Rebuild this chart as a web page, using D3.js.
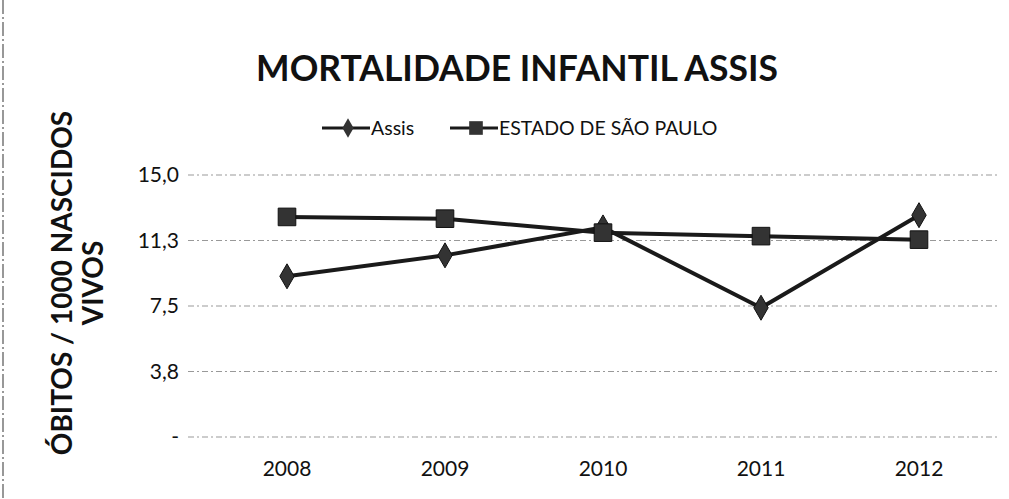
<!DOCTYPE html>
<html>
<head>
<meta charset="utf-8">
<script src="https://cdn.jsdelivr.net/npm/d3@7"></script>
<style>
  body { margin: 0; background: #fff; }
  svg { font-family: Lato, "Open Sans", sans-serif; }
</style>
</head>
<body>
<div class="graph"></div>
<script>
// data
const years = ["2008", "2009", "2010", "2011", "2012"]
const assis = [9.2, 10.4, 12.0, 7.4, 12.7]
const saoPaulo = [12.6, 12.5, 11.7, 11.5, 11.3]
const yTicks = [0, 3.75, 7.5, 11.25, 15]
const yTickLabels = ["-", "3,8", "7,5", "11,3", "15,0"]

const W = 1009, H = 499
const margin = {left: 208, right: 11, top: 175, bottom: 62}

let svg = d3.select('.graph')
    .append('svg')
    .attr("width", W)
    .attr("height", H)

let x = d3.scaleBand()
    .domain(years)
    .range([margin.left, W - margin.right])

let y = d3.scaleLinear()
    .domain([0, 15])
    .range([H - margin.bottom, margin.top])

// left border of the scanned page
svg.append('line')
    .attr('x1', 3).attr('x2', 3).attr('y1', 0).attr('y2', H)
    .attr('stroke', '#777').attr('stroke-width', 1.5)
    .attr('stroke-dasharray', '14,3,2,3')

// gridlines
svg.append('g')
    .selectAll('line')
    .data(yTicks)
    .enter()
    .append('line')
    .attr('x1', margin.left - 20)
    .attr('x2', W - 12)
    .attr('y1', d => y(d))
    .attr('y2', d => y(d))
    .attr('stroke', '#999')
    .attr('stroke-width', 1.2)
    .attr('stroke-dasharray', '6,3,2,3')

// y axis labels
let yAxis = d3.axisLeft(y)
    .tickValues(yTicks)
    .tickFormat((d, i) => yTickLabels[i])
    .tickSize(0)
    .tickPadding(0)

svg.append('g')
    .attr('transform', `translate(${179},0)`)
    .call(yAxis)
    .call(g => g.select('.domain').remove())
    .selectAll('text')
    .attr('font-size', 21)
    .attr('fill', '#111')
    .attr('font-family', 'Lato, sans-serif')

// x axis labels
let xAxis = d3.axisBottom(x).tickSize(0).tickPadding(0)
svg.append('g')
    .attr('transform', `translate(0,${461})`)
    .call(xAxis)
    .call(g => g.select('.domain').remove())
    .selectAll('text')
    .attr('font-size', 21)
    .attr('fill', '#111')
    .attr('font-family', 'Lato, sans-serif')

// title
svg.append('text')
    .attr('x', 517).attr('y', 81)
    .attr('text-anchor', 'middle')
    .attr('font-size', 35.5)
    .attr('font-weight', 'bold')
    .attr('fill', '#111')
    .text('MORTALIDADE INFANTIL ASSIS')

// y axis title
let yt = svg.append('text')
    .attr('transform', 'translate(0,283) rotate(-90)')
    .attr('text-anchor', 'middle')
    .attr('font-size', 28)
    .attr('font-weight', 'bold')
    .attr('fill', '#111')
yt.append('tspan').attr('x', 0).attr('y', 72).text('ÓBITOS / 1000 NASCIDOS')
yt.append('tspan').attr('x', 0).attr('y', 103).text('VIVOS')

let cx = d => x(d) + x.bandwidth() / 2

let line = d3.line()
    .x((d, i) => cx(years[i]))
    .y(d => y(d))

const series = [
  {name: 'Assis', values: assis, shape: d3.symbolDiamond, size: 180},
  {name: 'ESTADO DE SÃO PAULO', values: saoPaulo, shape: d3.symbolSquare, size: 310}
]

series.forEach(s => {
  svg.append('path')
      .datum(s.values)
      .attr('d', line)
      .attr('fill', 'none')
      .attr('stroke', '#1a1a1a')
      .attr('stroke-width', 4)
})
series.forEach(s => {
  svg.append('g')
      .selectAll('path')
      .data(s.values)
      .enter()
      .append('path')
      .attr('transform', (d, i) => `translate(${cx(years[i])},${y(d)})`)
      .attr('d', d3.symbol().type(s.shape).size(s.size))
      .attr('fill', '#333')
      .attr('stroke', '#111')
      .attr('stroke-width', 1)
})

// legend
const legendX = [322, 450]
series.forEach((s, i) => {
  let g = svg.append('g').attr('transform', `translate(${legendX[i]},128)`)
  g.append('line').attr('x1', 0).attr('x2', 48).attr('stroke', '#1a1a1a').attr('stroke-width', 3)
  g.append('path')
      .attr('transform', 'translate(26,0)')
      .attr('d', d3.symbol().type(s.shape).size(s.size * 0.6))
      .attr('fill', '#333')
  g.append('text')
      .attr('x', 49).attr('y', 7)
      .attr('font-size', 19.5)
      .attr('fill', '#111')
      .text(s.name)
})
</script>
</body>
</html>
